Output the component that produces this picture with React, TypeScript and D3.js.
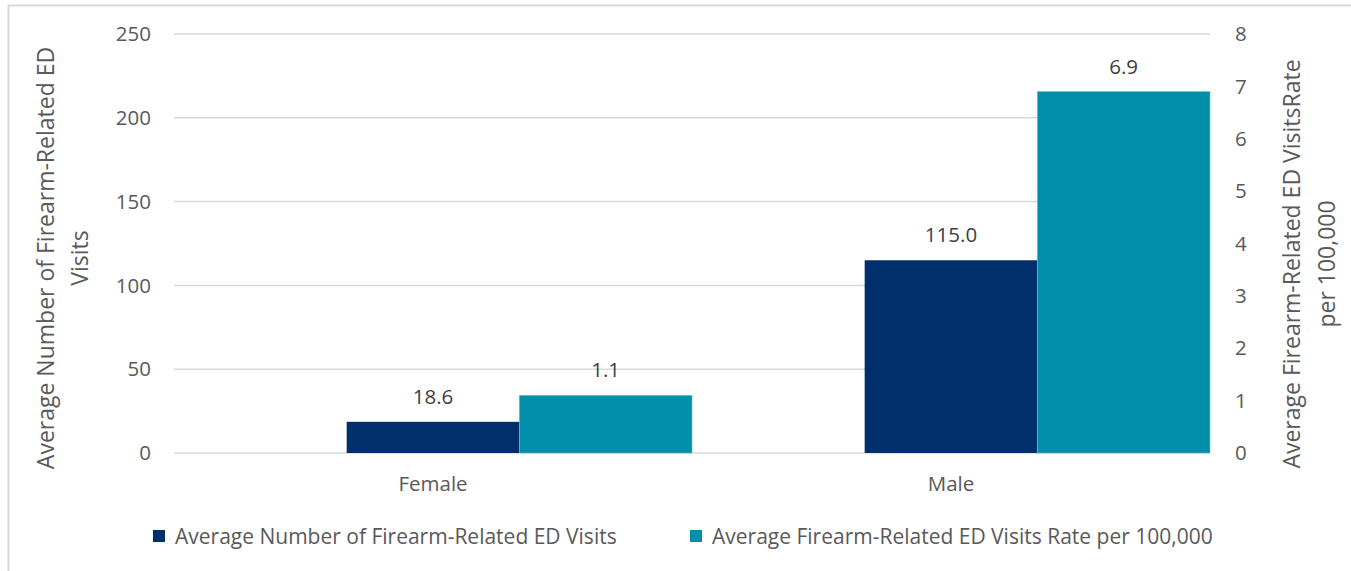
import React from "react";
import * as d3 from "d3";

const categories = ["Female", "Male"];
const visitCounts = [18.6, 115.0];
const visitRates = [1.1, 6.9];
const leftTicks = [0, 50, 100, 150, 200, 250];
const rightTicks = [0, 1, 2, 3, 4, 5, 6, 7, 8];
const seriesNames = [
  "Average Number of Firearm-Related ED Visits",
  "Average Firearm-Related ED Visits Rate per 100,000",
];
const leftTitle = ["Average Number of Firearm-Related ED", "Visits"];
const rightTitle = ["Average Firearm-Related ED VisitsRate", "per 100,000"];

const W = 1351;
const H = 571;
const plot = { left: 174, right: 1210, top: 34, bottom: 453 };
const NAVY = "#002F6C";
const TEAL = "#008EA9";
const TXT = "#595959";
const FONT = "'Open Sans', sans-serif";

export default function App() {
  const x = d3.scaleBand().domain(categories).range([plot.left, plot.right]).paddingInner(0).paddingOuter(0);
  const yL = d3.scaleLinear().domain([0, 250]).range([plot.bottom, plot.top]);
  const yR = d3.scaleLinear().domain([0, 8]).range([plot.bottom, plot.top]);
  const bw = x.bandwidth();
  const barW = bw / 3;
  const fs = 20.5;
  const lfs = 21;
  const tfs = 23;

  return (
    <svg width={W} height={H} style={{ position: "absolute", left: 0, top: 0, fontFamily: FONT }}>
      <rect x={0} y={0} width={W} height={H} fill="#fff" />
      <rect x={8.5} y={5.5} width={W + 20} height={H + 20} fill="none" stroke="#d9d9d9" strokeWidth={2} />
      {leftTicks.map((t) => (
        <g key={"g" + t}>
          <line x1={plot.left} x2={plot.right} y1={yL(t)} y2={yL(t)} stroke="#d9d9d9" strokeWidth={1.5} />
          <text x={151} y={yL(t)} dy="0.35em" textAnchor="end" fontSize={fs} fill={TXT}>{t}</text>
        </g>
      ))}
      {rightTicks.map((t) => (
        <text key={"r" + t} x={1235} y={yR(t)} dy="0.35em" textAnchor="start" fontSize={fs} fill={TXT}>{t}</text>
      ))}
      {categories.map((c, i) => {
        const x0 = (x(c) as number) + barW;
        const x1 = x0 + barW;
        return (
          <g key={c}>
            <rect x={x0} y={yL(visitCounts[i])} width={barW} height={plot.bottom - yL(visitCounts[i])} fill={NAVY} />
            <rect x={x1} y={yR(visitRates[i])} width={barW} height={plot.bottom - yR(visitRates[i])} fill={TEAL} stroke="#5fc0d3" strokeWidth={0.6} />
            <text x={x0 + barW / 2} y={yL(visitCounts[i]) - 18} textAnchor="middle" fontSize={fs} fill="#404040">{visitCounts[i].toFixed(1)}</text>
            <text x={x1 + barW / 2} y={yR(visitRates[i]) - 18} textAnchor="middle" fontSize={fs} fill="#404040">{visitRates[i].toFixed(1)}</text>
            <text x={(x(c) as number) + bw / 2} y={491} textAnchor="middle" fontSize={fs} fill={TXT}>{c}</text>
          </g>
        );
      })}
      {leftTitle.map((s, i) => (
        <text key={"lt" + i} transform={`translate(${54 + i * 34},258) rotate(-90)`} textAnchor="middle" fontSize={tfs} fill={TXT}>{s}</text>
      ))}
      {rightTitle.map((s, i) => (
        <text key={"rt" + i} transform={`translate(${1300 + i * 35},264) rotate(-90)`} textAnchor="middle" fontSize={tfs} fill={TXT}>{s}</text>
      ))}
      {seriesNames.map((s, i) => {
        const lx = i === 0 ? 153 : 690;
        return (
          <g key={s}>
            <rect x={lx} y={530} width={12} height={12} fill={i === 0 ? NAVY : TEAL} />
            <text x={lx + 22} y={543.5} fontSize={lfs} fill={TXT}>{s}</text>
          </g>
        );
      })}
    </svg>
  );
}
